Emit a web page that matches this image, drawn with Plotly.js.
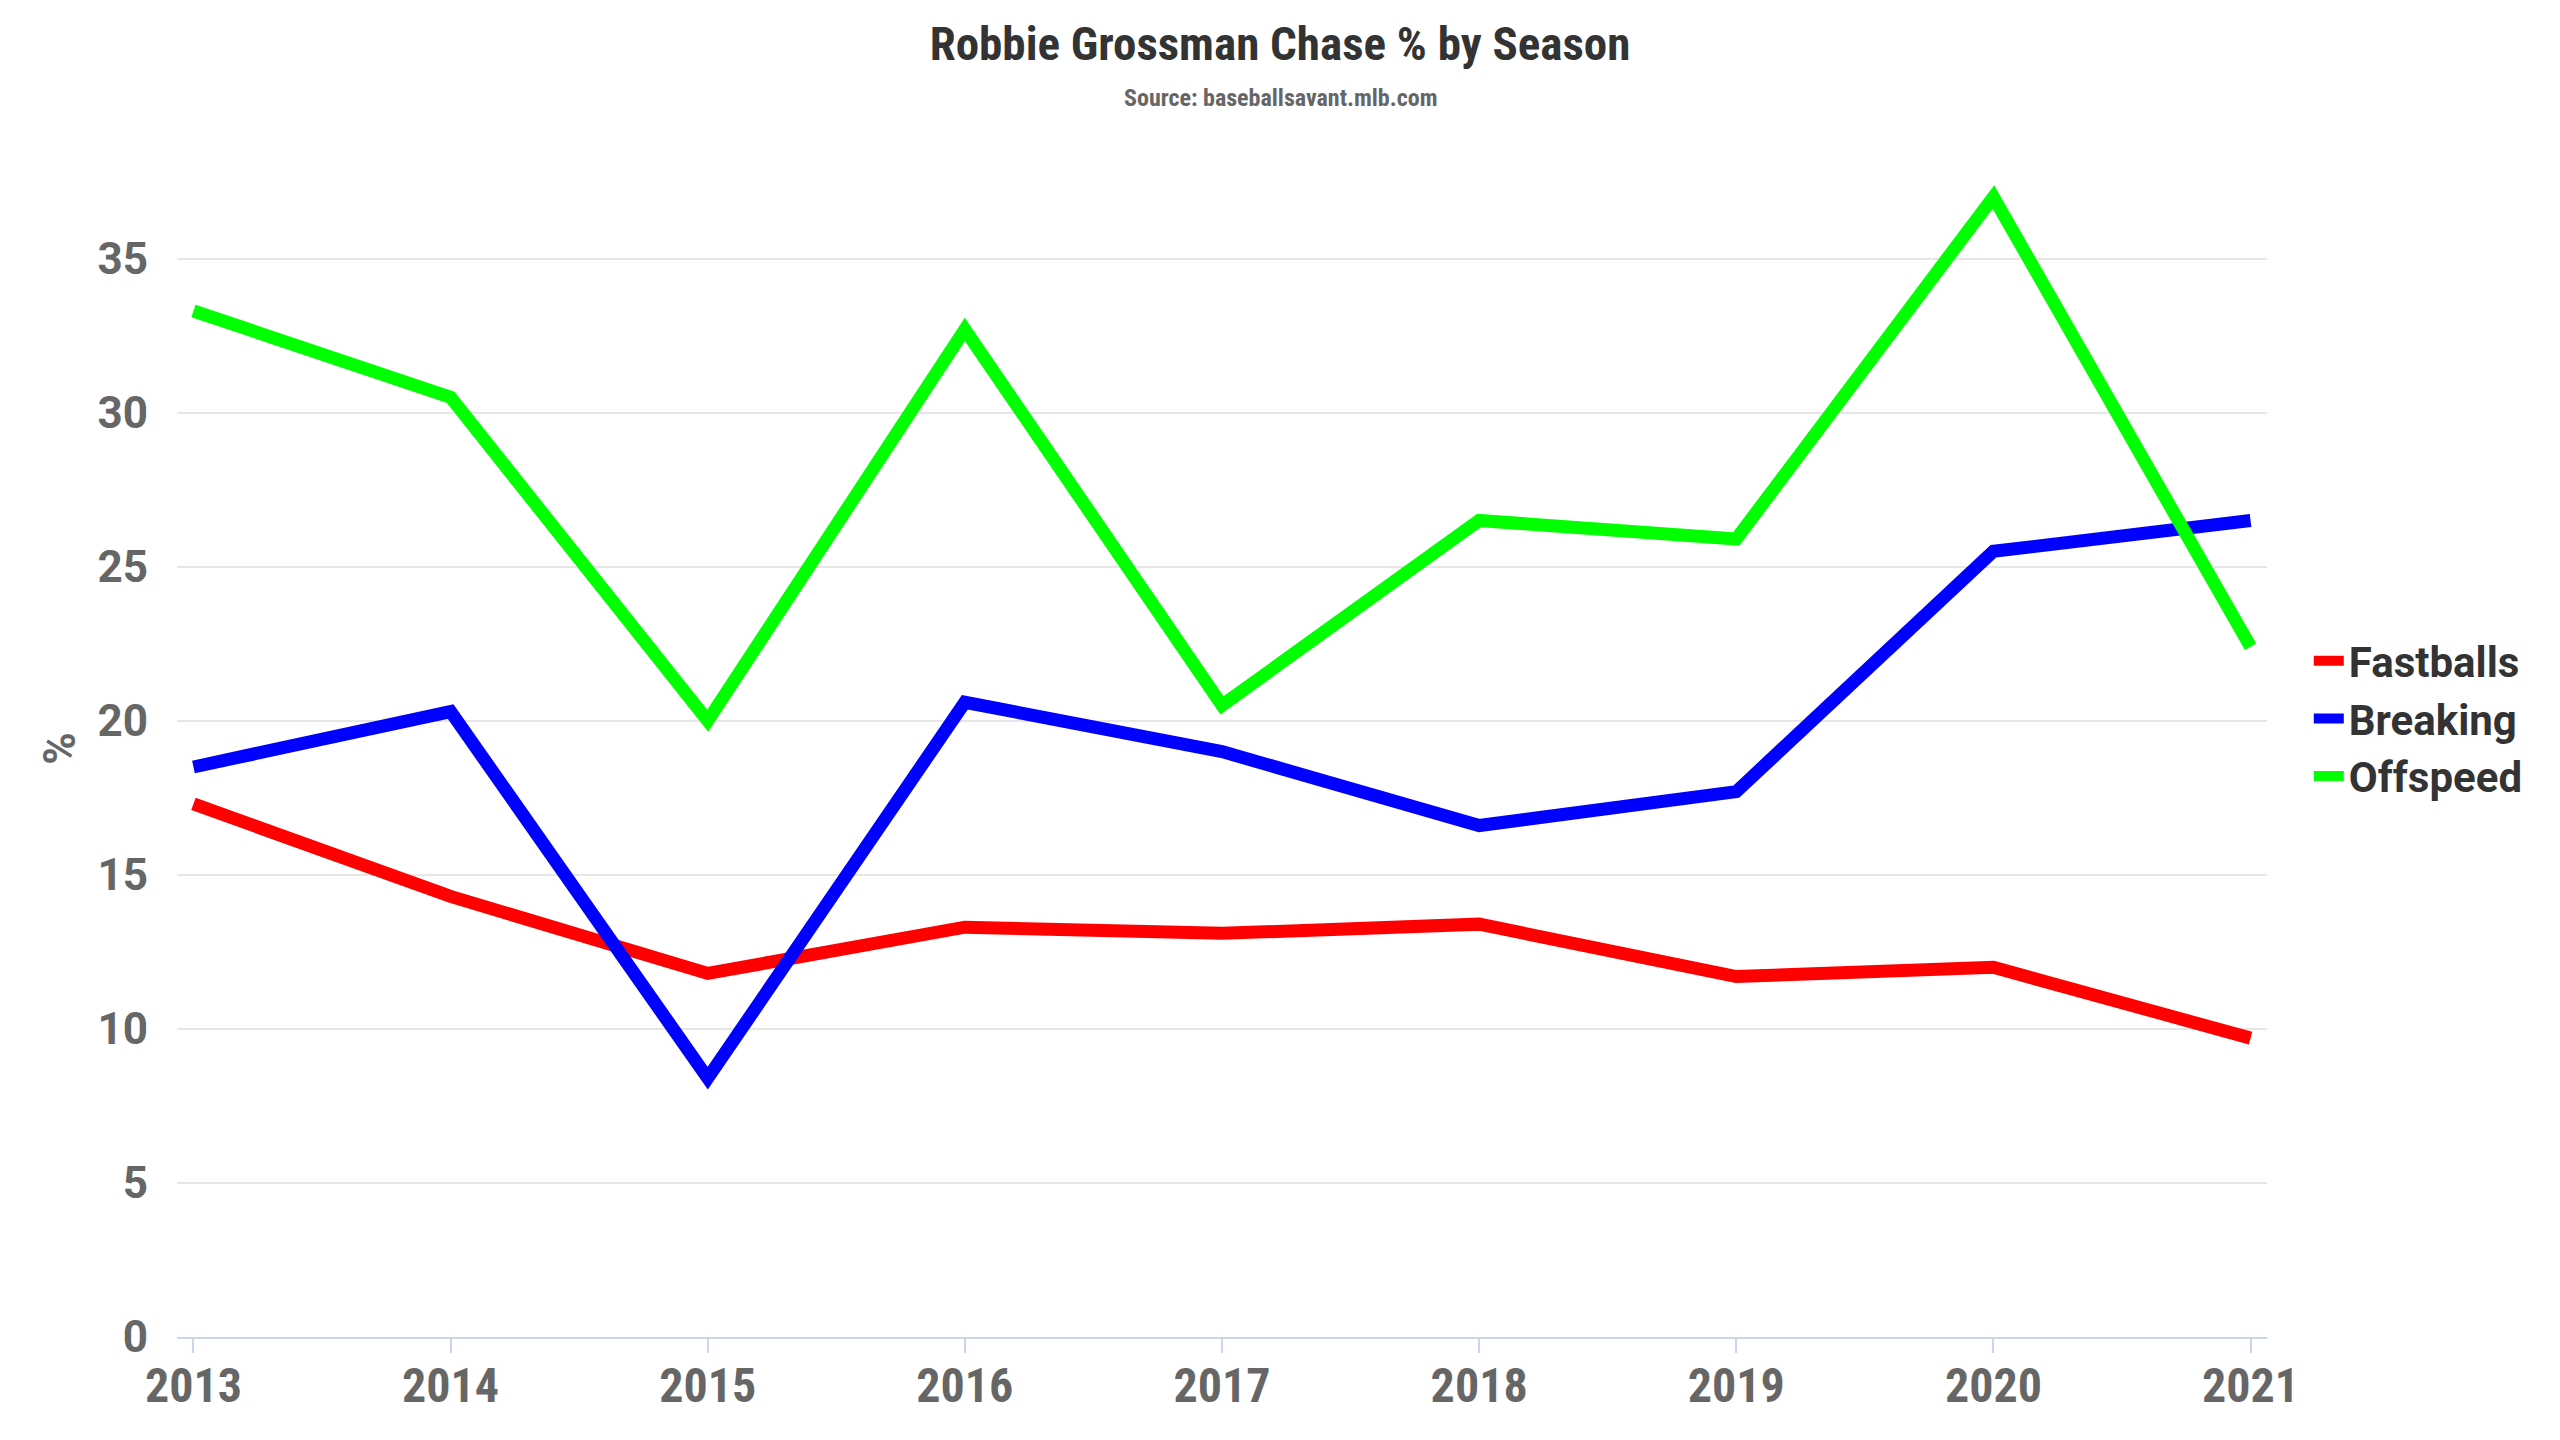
<!DOCTYPE html>
<html>
<head>
<meta charset="utf-8">
<script src="https://cdn.plot.ly/plotly-3.0.1.min.js"></script>
<style>
  html, body { margin: 0; padding: 0; background: #fff; }
  #myDiv { width: 2560px; height: 1440px; }
</style>
</head>
<body>
<div id="myDiv"></div>
<script>
var seasons = ['2013', '2014', '2015', '2016', '2017', '2018', '2019', '2020', '2021'];
var fastballs = [17.3, 14.3, 11.8, 13.3, 13.1, 13.4, 11.7, 12.0, 9.7];
var breaking = [18.5, 20.3, 8.4, 20.6, 19.0, 16.6, 17.7, 25.5, 26.5];
var offspeed = [33.3, 30.5, 20.0, 32.7, 20.5, 26.5, 25.9, 37.0, 22.4];

var narrow = 'Roboto Condensed, Liberation Sans Narrow, Roboto, sans-serif';
var wide = 'Roboto, sans-serif';

var trace1 = {
  x: seasons,
  y: fastballs,
  name: 'Fastballs',
  type: 'scatter',
  mode: 'lines',
  line: {color: '#ff0000', width: 13}
};

var trace2 = {
  x: seasons,
  y: breaking,
  name: 'Breaking',
  type: 'scatter',
  mode: 'lines',
  line: {color: '#0000ff', width: 13}
};

var trace3 = {
  x: seasons,
  y: offspeed,
  name: 'Offspeed',
  type: 'scatter',
  mode: 'lines',
  line: {color: '#00ff00', width: 13}
};

var data = [trace1, trace2, trace3];

var layout = {
  width: 2560,
  height: 1440,
  paper_bgcolor: '#ffffff',
  plot_bgcolor: '#ffffff',
  margin: {l: 177, r: 293, t: 160, b: 103},
  title: {
    text: 'Robbie Grossman Chase % by Season',
    font: {family: narrow, size: 47, color: '#333333', weight: 700},
    xref: 'container', x: 0.5, xanchor: 'center',
    yref: 'container', y: 1 - 44 / 1440, yanchor: 'middle'
  },
  annotations: [{
    text: 'Source: baseballsavant.mlb.com',
    xref: 'paper', x: 0.528, xanchor: 'center',
    yref: 'paper', y: 1.053, yanchor: 'middle',
    showarrow: false,
    font: {family: narrow, size: 24, color: '#666666', weight: 700}
  }],
  xaxis: {
    type: 'category',
    range: [-0.064, 8.064],
    showgrid: false,
    zeroline: false,
    showline: true,
    linecolor: '#ccd6eb',
    linewidth: 2,
    ticks: 'outside',
    ticklen: 14,
    tickwidth: 2,
    tickcolor: '#ccd6eb',
    ticklabelstandoff: -9,
    tickfont: {family: narrow, size: 48, color: '#666666', weight: 700}
  },
  yaxis: {
    range: [0, 38.2],
    tick0: 0,
    dtick: 5,
    showgrid: true,
    gridcolor: '#e6e6e6',
    gridwidth: 2,
    zeroline: false,
    showline: false,
    ticklabelstandoff: 28,
    tickfont: {family: wide, size: 44, color: '#666666', weight: 700},
    title: {
      text: '%',
      standoff: 8,
      font: {family: wide, size: 44, color: '#666666', weight: 700}
    }
  },
  showlegend: true,
  legend: {
    x: 1.020, xanchor: 'left',
    y: 0.5255, yanchor: 'middle',
    font: {family: wide, size: 42, color: '#333333', weight: 700},
    itemwidth: 30,
    tracegroupgap: 0
  }
};

Plotly.newPlot('myDiv', data, layout, {staticPlot: true});
</script>
</body>
</html>
